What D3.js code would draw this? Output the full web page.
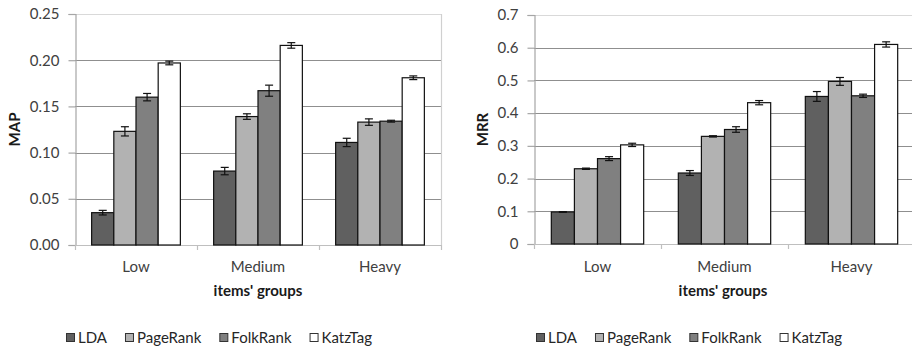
<!DOCTYPE html>
<html>
<head>
<meta charset="utf-8">
<script src="https://cdn.jsdelivr.net/npm/d3@7"></script>
<style>
  body { margin: 0; background: #fff; }
  svg { display: block; font-family: Lato, "Open Sans", sans-serif; }
</style>
</head>
<body>
<script>
// data
var categories = ["Low", "Medium", "Heavy"];
var series = ["LDA", "PageRank", "FolkRank", "KatzTag"];
var seriesColors = ["#606060", "#b2b2b2", "#808080", "#ffffff"];

// rows = categories, columns = series
var mapValues = [[0.035, 0.123, 0.160, 0.197],
                 [0.080, 0.139, 0.167, 0.216],
                 [0.111, 0.133, 0.134, 0.181]];
var mapErrors = [[0.0025, 0.005, 0.004, 0.002],
                 [0.004, 0.003, 0.006, 0.003],
                 [0.0045, 0.0035, 0.001, 0.002]];
var mapTicks = [0, 0.05, 0.10, 0.15, 0.20, 0.25];

var mrrValues = [[0.098, 0.230, 0.261, 0.303],
                 [0.217, 0.329, 0.350, 0.432],
                 [0.451, 0.497, 0.453, 0.610]];
var mrrErrors = [[0.001, 0.002, 0.006, 0.005],
                 [0.0075, 0.002, 0.0085, 0.0065],
                 [0.015, 0.012, 0.005, 0.008]];
var mrrTicks = [0, 0.1, 0.2, 0.3, 0.4, 0.5, 0.6, 0.7];

var w = 912, h = 347;

var svg = d3.select("body").append("svg")
    .attr("width", w)
    .attr("height", h);

drawPanel({
    left: 75, right: 441, top: 14, bottom: 245,
    values: mapValues, errors: mapErrors, ticks: mapTicks,
    format: d3.format(".2f"), title: "MAP", titleX: 15,
    frame: true, legendX: 66
});

drawPanel({
    left: 534, right: 915, top: 15, bottom: 244,
    values: mrrValues, errors: mrrErrors, ticks: mrrTicks,
    format: function (d) { return d === 0 ? "0" : d3.format(".1f")(d); },
    title: "MRR", titleX: 483,
    frame: false, legendX: 536
});

function drawPanel(o) {
    var g = svg.append("g");
    var yMax = o.ticks[o.ticks.length - 1];

    var x = d3.scaleBand()
        .domain(categories)
        .range([o.left, o.right])
        .padding(0);

    // Excel-like gap width 150%: group takes 4 / 5.5 of the band
    var gap = x.bandwidth() * 1.5 / 5.5;
    var xs = d3.scaleBand()
        .domain(series)
        .range([gap / 2, x.bandwidth() - gap / 2])
        .padding(0);

    var y = d3.scaleLinear()
        .domain([0, yMax])
        .range([o.bottom, o.top]);

    // gridlines
    g.append("g").selectAll("line")
        .data(o.ticks.filter(function (d) { return d > 0; }))
        .enter().append("line")
        .attr("x1", o.left)
        .attr("x2", o.right)
        .attr("y1", function (d) { return Math.round(y(d)) + 0.5; })
        .attr("y2", function (d) { return Math.round(y(d)) + 0.5; })
        .attr("stroke", function (d) { return d === yMax ? "#d9d9d9" : "#8f8f8f"; })
        .attr("stroke-width", 1.2);

    if (o.frame) {
        g.append("line")
            .attr("x1", o.right + 0.5).attr("x2", o.right + 0.5)
            .attr("y1", o.top).attr("y2", o.bottom)
            .attr("stroke", "#d0d0d0")
            .attr("stroke-width", 1.2);
    }

    // y axis
    var yAxis = g.append("g")
        .attr("transform", "translate(" + (o.left + 0.5) + ",0)")
        .call(d3.axisLeft(y)
            .tickValues(o.ticks)
            .tickFormat(o.format)
            .tickSize(7)
            .tickPadding(9));
    yAxis.select(".domain").attr("stroke", "#a6a6a6").attr("stroke-width", 1.2);
    yAxis.selectAll(".tick line").attr("stroke", "#a6a6a6").attr("stroke-width", 1.2);
    yAxis.selectAll(".tick text")
        .attr("fill", "#404040")
        .style("font-size", "15px")
        .style("font-family", "Lato, sans-serif");

    // x axis line and category boundary ticks
    g.append("line")
        .attr("x1", o.left).attr("x2", o.right)
        .attr("y1", o.bottom + 0.5).attr("y2", o.bottom + 0.5)
        .attr("stroke", "#bfbfbf")
        .attr("stroke-width", 1.2);

    var bounds = categories.map(function (c) { return x(c); }).concat([o.right]);
    g.append("g").selectAll("line")
        .data(bounds)
        .enter().append("line")
        .attr("x1", function (d) { return Math.round(d) + 0.5; })
        .attr("x2", function (d) { return Math.round(d) + 0.5; })
        .attr("y1", o.bottom)
        .attr("y2", o.bottom + 5)
        .attr("stroke", "#bfbfbf")
        .attr("stroke-width", 1.2);

    g.append("g").selectAll("text")
        .data(categories)
        .enter().append("text")
        .attr("x", function (d) { return x(d) + x.bandwidth() / 2; })
        .attr("y", 272)
        .attr("text-anchor", "middle")
        .attr("fill", "#404040")
        .style("font-size", "15px")
        .text(function (d) { return d; });

    // bars
    var groups = g.append("g").selectAll("g")
        .data(categories)
        .enter().append("g")
        .attr("transform", function (d) { return "translate(" + x(d) + ",0)"; });

    var cells = groups.selectAll("g")
        .data(function (d, i) {
            return series.map(function (s, j) {
                return { s: s, j: j, v: o.values[i][j], e: o.errors[i][j] };
            });
        })
        .enter().append("g");

    cells.append("rect")
        .attr("x", function (d) { return xs(d.s); })
        .attr("y", function (d) { return y(d.v); })
        .attr("width", xs.bandwidth())
        .attr("height", function (d) { return y(0) - y(d.v); })
        .attr("fill", function (d) { return seriesColors[d.j]; })
        .attr("stroke", "#111")
        .attr("stroke-width", 1.2);

    // error bars
    var cap = 4;
    cells.append("line")
        .attr("x1", function (d) { return xs(d.s) + xs.bandwidth() / 2; })
        .attr("x2", function (d) { return xs(d.s) + xs.bandwidth() / 2; })
        .attr("y1", function (d) { return y(d.v - d.e); })
        .attr("y2", function (d) { return y(d.v + d.e); })
        .attr("stroke", "#111")
        .attr("stroke-width", 1.2);
    cells.selectAll("line.cap")
        .data(function (d) { return [d.v - d.e, d.v + d.e].map(function (v) { return { s: d.s, v: v }; }); })
        .enter().append("line")
        .attr("class", "cap")
        .attr("x1", function (d) { return xs(d.s) + xs.bandwidth() / 2 - cap; })
        .attr("x2", function (d) { return xs(d.s) + xs.bandwidth() / 2 + cap; })
        .attr("y1", function (d) { return y(d.v); })
        .attr("y2", function (d) { return y(d.v); })
        .attr("stroke", "#111")
        .attr("stroke-width", 1.2);

    // axis titles
    g.append("text")
        .attr("transform", "translate(" + o.titleX + "," + ((o.top + o.bottom) / 2) + ")rotate(-90)")
        .attr("text-anchor", "middle")
        .attr("dy", "0.35em")
        .attr("fill", "#1a1a1a")
        .style("font-size", "15px")
        .style("font-weight", "bold")
        .text(o.title);

    g.append("text")
        .attr("x", (o.left + Math.min(o.right, w)) / 2)
        .attr("y", 296)
        .attr("text-anchor", "middle")
        .attr("fill", "#1a1a1a")
        .style("font-size", "15px")
        .style("font-weight", "bold")
        .text("items' groups");

    // legend
    var lx = o.legendX;
    series.forEach(function (s, j) {
        g.append("rect")
            .attr("x", lx + 0.5)
            .attr("y", 333.5)
            .attr("width", 8)
            .attr("height", 8)
            .attr("fill", seriesColors[j])
            .attr("stroke", "#333")
            .attr("stroke-width", 1);
        var t = g.append("text")
            .attr("x", lx + 12)
            .attr("y", 343)
            .attr("fill", "#262626")
            .style("font-size", "15px")
            .text(s);
        lx += 12 + t.node().getComputedTextLength() + 18;
    });
}
</script>
</body>
</html>
